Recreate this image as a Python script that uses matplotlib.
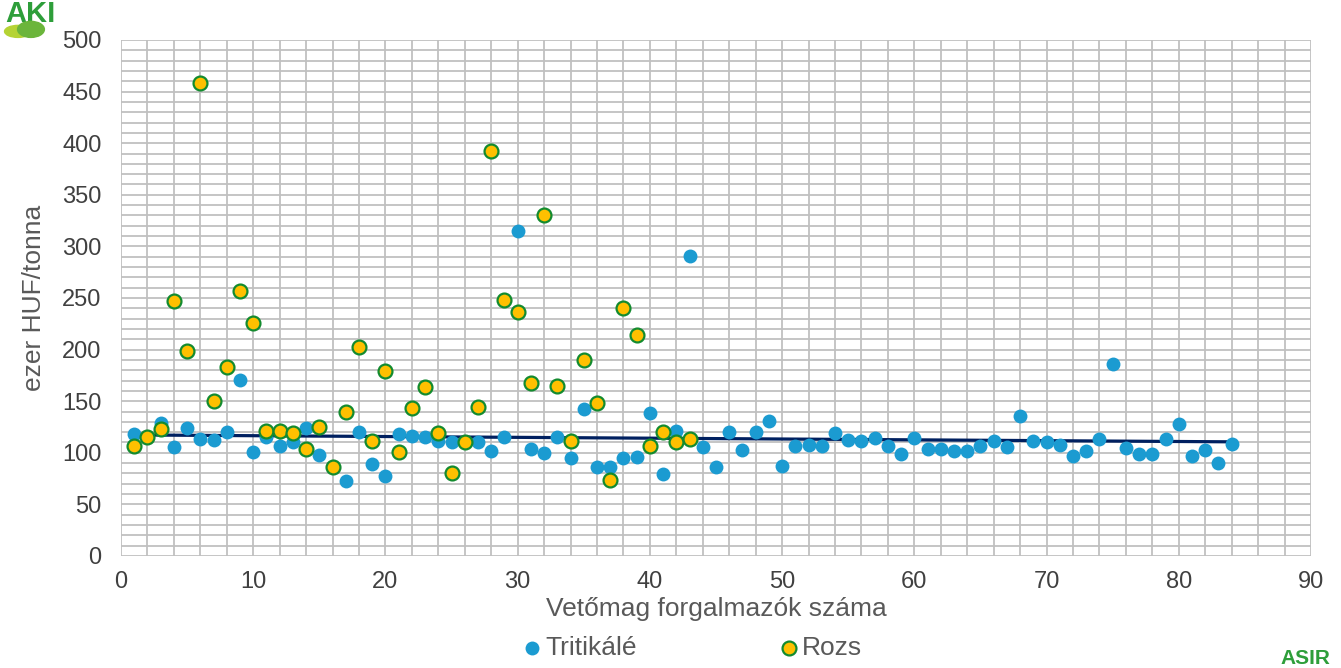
import matplotlib
matplotlib.use("Agg")
import matplotlib.pyplot as plt
import numpy as np
from matplotlib.ticker import MultipleLocator
from matplotlib.patches import Ellipse

plt.rcParams['font.family'] = ['Liberation Sans', 'DejaVu Sans']

# DATA (ezer HUF/tonna, by rank of seed distributor)
tritikale_x = list(range(1, 85))
tritikale_y = [118, 115, 129, 106, 124, 113, 112, 120, 171, 101,
               115, 107, 110, 124, 98, 86, 73, 120, 89, 78,
               118, 116, 115, 111, 110, 110, 110, 102, 115, 315,
               104, 100, 115, 95, 142, 86, 86, 95, 96, 139,
               79, 121, 291, 106, 86, 120, 103, 120, 131, 87,
               107, 108, 107, 119, 112, 111, 114, 107, 99, 114,
               104, 104, 102, 102, 107, 111, 106, 136, 111, 110,
               108, 97, 102, 113, 186, 105, 99, 99, 113, 128,
               97, 103, 90, 109]

rozs_x = list(range(1, 44))
rozs_y = [107, 115, 123, 247, 199, 458, 150, 183, 257, 226,
          121, 121, 119, 104, 125, 86, 140, 203, 111, 179,
          101, 143, 164, 119, 80, 110, 144, 392, 248, 236,
          168, 330, 165, 111, 190, 148, 74, 240, 214, 107,
          120, 110, 113]

x_ticks = list(range(0, 91, 10))
y_ticks = list(range(0, 501, 50))

# linear trendline of Tritikálé
coef = np.polyfit(tritikale_x, tritikale_y, 1)
trend_x = np.array([tritikale_x[0], tritikale_x[-1]])
trend_y = np.polyval(coef, trend_x)

# PLOT
fig = plt.figure(figsize=(13.41, 6.68), dpi=100)
ax = fig.add_axes([121/1341, 1 - 556/668, 1190/1341, 516/668])

ax.plot(trend_x, trend_y, color='#002060', lw=2.3, zorder=2)
ax.scatter(tritikale_x, tritikale_y, s=100, color='#1B9BD1', zorder=3,
           linewidths=0, label='Tritikálé')
ax.scatter(rozs_x, rozs_y, s=100, color='#FFC000', edgecolors='#138B2F',
           linewidths=1.6, zorder=4, label='Rozs')

# DESIGN
ax.set_xlim(0, 90)
ax.set_ylim(0, 500)
ax.set_xticks(x_ticks)
ax.set_yticks(y_ticks)
ax.xaxis.set_minor_locator(MultipleLocator(2))
ax.yaxis.set_minor_locator(MultipleLocator(10))
ax.grid(which='both', color='#C0C0C0', lw=1.3)
ax.set_axisbelow(True)
ax.tick_params(which='both', length=0, labelsize=17, labelcolor='#404040')
ax.tick_params(axis='y', pad=14)
ax.tick_params(axis='x', pad=10.5)
for spine in ax.spines.values():
    spine.set_visible(False)

ax.set_ylabel('ezer HUF/tonna', fontsize=19, color='#595959', labelpad=12)
ax.set_xlabel('Vetőmag forgalmazók száma', fontsize=19, color='#595959', labelpad=3)

leg = fig.legend(loc='center', bbox_to_anchor=(0.517, 0.030), ncol=2, frameon=False,
                 fontsize=19, handlelength=0.6, handletextpad=0.2, columnspacing=5.45,
                 markerscale=1.0, labelcolor='#595959')

# LOGOS
fig.text(0.004, 1.0, 'AKI', fontsize=21, fontweight='bold',
         color='#2E9E3A', ha='left', va='top')
fig.patches.append(Ellipse((0.0134, 0.953), 0.020, 0.018, transform=fig.transFigure,
                           color='#B5D334', zorder=5))
fig.patches.append(Ellipse((0.0231, 0.956), 0.020, 0.024, transform=fig.transFigure,
                           color='#6BB53B', zorder=5))
fig.text(0.992, 0.0, 'ASIR', fontsize=15, fontweight='bold', color='#2E9E3A',
         ha='right', va='bottom')

fig.savefig('out.png', dpi=100)
